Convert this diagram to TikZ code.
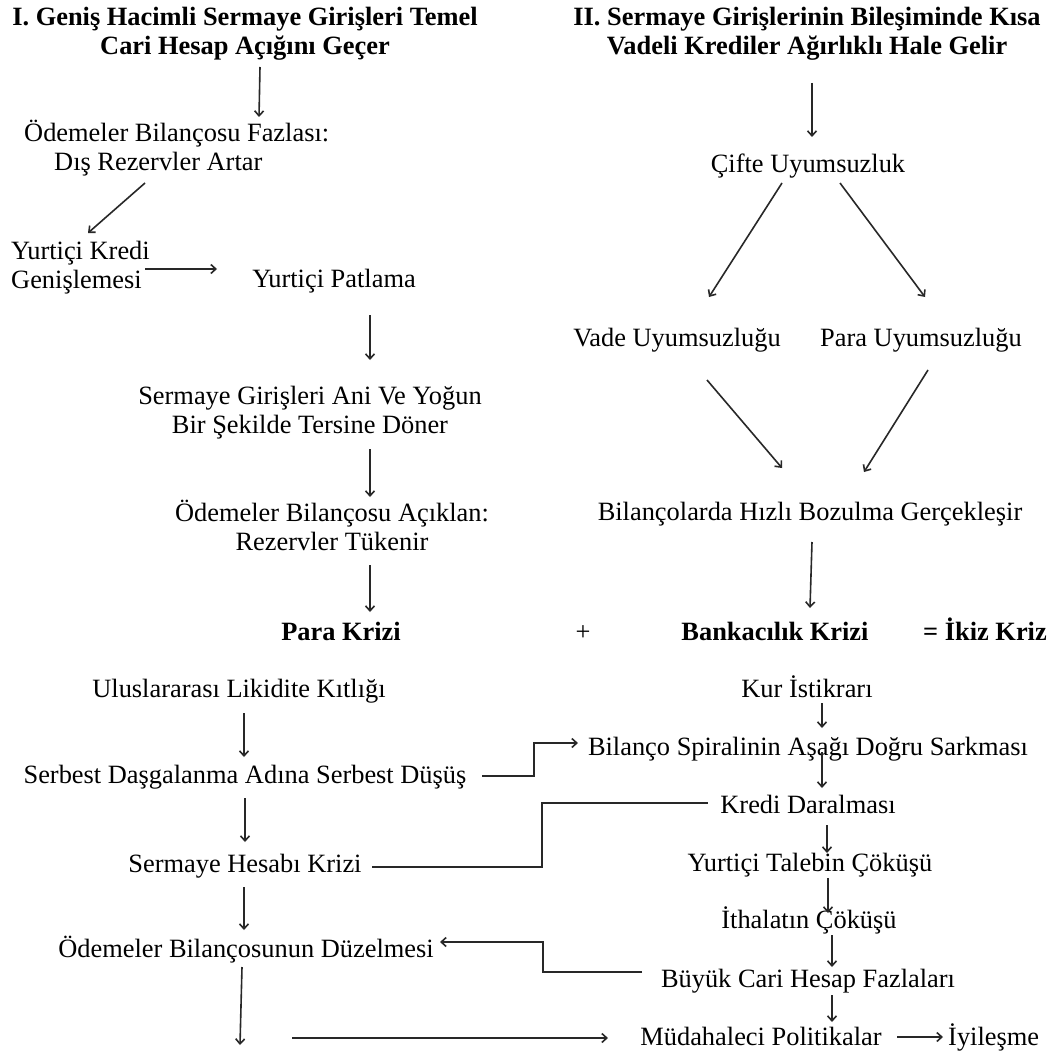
\documentclass[tikz,border=0pt]{standalone}
\usepackage{fontspec}
\setmainfont{Liberation Serif}
\usetikzlibrary{arrows.meta}
\newcommand{\twoc}[2]{\begin{tabular}[t]{@{}c@{}}#1\\#2\end{tabular}}
\newcommand{\twol}[2]{\begin{tabular}[t]{@{}l@{}}#1\\#2\end{tabular}}
\definecolor{linec}{RGB}{40,40,40}
\begin{document}
\begin{tikzpicture}[x=1pt,y=-1pt,
  lbl/.style={inner sep=0pt, font=\fontsize{26.4}{29}\selectfont, anchor=base},
  lbll/.style={lbl, anchor=base west},
  bld/.style={lbl, font=\fontsize{26.4}{29}\selectfont\bfseries},
  conn/.style={line width=1.6pt, linec},
  arr/.style={conn, -{Straight Barb[length=5pt,width=9pt,line width=1.6pt]}}]
\useasboundingbox (0,0) rectangle (1055,1054);
\fill[white] (0,0) rectangle (1055,1054);

% headings
\node[bld] (t1) at (245,26) {\twoc{I. Geniş Hacimli Sermaye Girişleri Temel}{Cari Hesap Açığını Geçer}};
\node[bld] (t2) at (807,26) {\twoc{II. Sermaye Girişlerinin Bileşiminde Kısa}{Vadeli Krediler Ağırlıklı Hale Gelir}};

% left upper column
\node[lbll] (obf) at (24,142) {\twol{Ödemeler Bilançosu Fazlası:}{\hspace{30pt}Dış Rezervler Artar}};
\node[lbll] (ykg) at (11,259) {\twol{Yurtiçi Kredi}{Genişlemesi}};
\node[lbl] (yp) at (334,287) {Yurtiçi Patlama};
\node[lbl] (sga) at (310,404) {\twoc{Sermaye Girişleri Ani Ve Yoğun}{Bir Şekilde Tersine Döner}};
\node[lbl] (oba) at (332,521) {\twoc{Ödemeler Bilançosu Açıklan:}{Rezervler Tükenir}};

% right upper column
\node[lbl] (cu) at (808,172) {Çifte Uyumsuzluk};
\node[lbl] (vu) at (677,346) {Vade Uyumsuzluğu};
\node[lbl] (pu) at (921,346) {Para Uyumsuzluğu};
\node[lbl] (bhb) at (810,520) {Bilançolarda Hızlı Bozulma Gerçekleşir};

% crisis line
\node[bld] (pk) at (341,640) {Para Krizi};
\node[lbl] (plus) at (583,640) {+};
\node[bld] (bk) at (775,640) {Bankacılık Krizi};
\node[bld] (ikiz) at (985,640) {= İkiz Kriz};

% left lower column
\node[lbl] (ull) at (239,697) {Uluslararası Likidite Kıtlığı};
\node[lbl] (sdas) at (245,783) {Serbest Daşgalanma Adına Serbest Düşüş};
\node[lbl] (shk) at (245,872) {Sermaye Hesabı Krizi};
\node[lbl] (obd) at (246,957) {Ödemeler Bilançosunun Düzelmesi};
\coordinate (e1) at (240,1045);
\coordinate (c1) at (292,1038);

% right lower column
\node[lbl] (kur) at (807,697) {Kur İstikrarı};
\node[lbl] (bss) at (808,755) {Bilanço Spiralinin Aşağı Doğru Sarkması};
\node[lbl] (kd) at (808,813) {Kredi Daralması};
\node[lbl] (ytc) at (810,871) {Yurtiçi Talebin Çöküşü};
\node[lbl] (ic) at (809,928) {İthalatın Çöküşü};
\node[lbl] (bch) at (808,987) {Büyük Cari Hesap Fazlaları};
\node[lbl] (mp) at (761,1045) {Müdahaleci Politikalar};
\node[lbll] (iy) at (948,1045) {İyileşme};

% connectors, upper left
\draw[arr] ([shift={(15,41)}]t1.base) -- ([shift={(235,-25)}]obf.base west);
\draw[arr] ([shift={(121,41)}]obf.base west) -- ([shift={(77,-26)}]ykg.base west);
\draw[arr] ([shift={(134,10)}]ykg.base west) -- ([shift={(-117,-18)}]yp.base);
\draw[arr] ([shift={(36,28)}]yp.base) -- ([shift={(60,-44)}]sga.base);
\draw[arr] ([shift={(60,45)}]sga.base) -- ([shift={(38,-24)}]oba.base);
\draw[arr] ([shift={(38,44)}]oba.base) -- ([shift={(29,-28)}]pk.base);

% connectors, upper right
\draw[arr] ([shift={(5,57)}]t2.base) -- ([shift={(4,-35)}]cu.base);
\draw[arr] ([shift={(-26,11)}]cu.base) -- ([shift={(32,-49)}]vu.base);
\draw[arr] ([shift={(32,11)}]cu.base) -- ([shift={(4,-49)}]pu.base);
\draw[arr] ([shift={(30,34)}]vu.base) -- ([shift={(-28,-52)}]bhb.base);
\draw[arr] ([shift={(7,24)}]pu.base) -- ([shift={(54,-48)}]bhb.base);
\draw[arr] ([shift={(2,22)}]bhb.base) -- ([shift={(35,-32)}]bk.base);

% connectors, lower left
\draw[arr] ([shift={(5,16)}]ull.base) -- ([shift={(-1,-26)}]sdas.base);
\draw[arr] ([shift={(0,15)}]sdas.base) -- ([shift={(0,-30)}]shk.base);
\draw[arr] ([shift={(-1,15)}]shk.base) -- ([shift={(-2,-27)}]obd.base);
\draw[arr] ([shift={(-4,10)}]obd.base) -- (e1);
\draw[arr] (c1) -- ([shift={(-153,-7)}]mp.base);

% connectors, lower right
\draw[arr] ([shift={(15,6)}]kur.base) -- ([shift={(14,-27)}]bss.base);
\draw[arr] ([shift={(14,-3)}]bss.base) -- ([shift={(14,-25)}]kd.base);
\draw[arr] ([shift={(19,12)}]kd.base) -- ([shift={(17,-18)}]ytc.base);
\draw[arr] ([shift={(18,7)}]ytc.base) -- ([shift={(19,-15)}]ic.base);
\draw[arr] ([shift={(23,7)}]ic.base) -- ([shift={(24,-20)}]bch.base);
\draw[arr] ([shift={(24,8)}]bch.base) -- ([shift={(71,-23)}]mp.base);
\draw[arr] ([shift={(136,-8)}]mp.base) -- ([shift={(-5,-8)}]iy.base west);

% elbow connectors
\draw[arr] ([shift={(237,-7)}]sdas.base) -- ++(52,0) |- ([shift={(-230,-12)}]bss.base);
\draw[conn] ([shift={(127,-5)}]shk.base) -- ++(170,0) |- ([shift={(-100,-10)}]kd.base);
\draw[arr] ([shift={(-166,-15)}]bch.base) -- ++(-99,0) |- ([shift={(194,-15)}]obd.base);
\end{tikzpicture}
\end{document}
